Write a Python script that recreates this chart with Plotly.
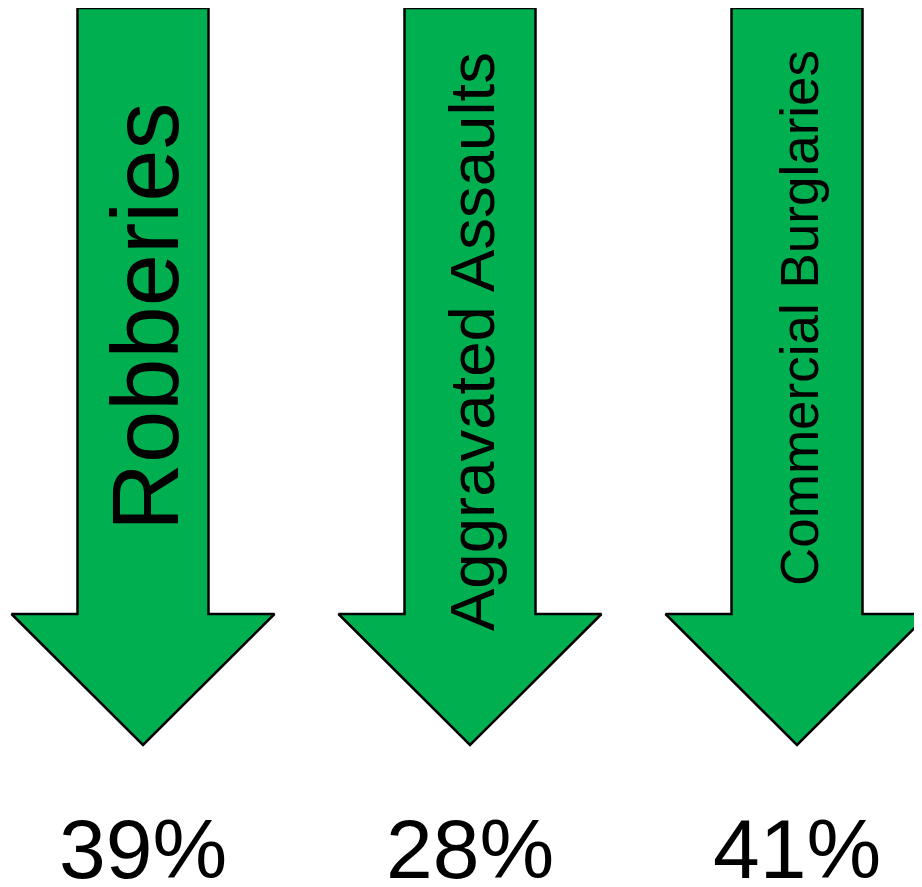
import plotly.graph_objects as go

# ---- data ----
categories = ["Robberies", "Aggravated Assaults", "Commercial Burglaries"]
percent_change = [39, 28, 41]
label_font_sizes = [94, 63.5, 53]

# ---- layout parameters (page pixel canvas; page body has an 8px margin) ----
PAGE_W, PAGE_H = 922, 887
BODY_MARGIN = 8
first_center = 143
spacing = 327
arrow_top = 8
shaft_bottom = 614
tip_y = 745
shaft_half = 65.5
head_half = 131.5
green = "#00B050"
label_centers = [317, 342, 318]
pct_center_y = 849

fig = go.Figure()

for i, (cat, val, fs) in enumerate(zip(categories, percent_change, label_font_sizes)):
    cx = first_center + spacing * i
    xs = [cx - shaft_half, cx + shaft_half, cx + shaft_half, cx + head_half,
          cx, cx - head_half, cx - shaft_half, cx - shaft_half]
    ys = [arrow_top, arrow_top, shaft_bottom, shaft_bottom,
          tip_y, shaft_bottom, shaft_bottom, arrow_top]
    fig.add_trace(go.Scatter(
        x=xs, y=ys, mode="lines", fill="toself", fillcolor=green,
        line=dict(color="black", width=2.5), hoverinfo="skip", showlegend=False,
    ))
    fig.add_annotation(
        x=cx + 2, y=label_centers[i], text=cat, textangle=-90, showarrow=False,
        xanchor="center", yanchor="middle",
        font=dict(family="Liberation Sans, Arial, sans-serif", size=fs, color="black"),
    )
    fig.add_annotation(
        x=cx, y=pct_center_y, text=f"{val}%", showarrow=False,
        xanchor="center", yanchor="middle",
        font=dict(family="Liberation Sans, Arial, sans-serif", size=84, color="black"),
    )

plot_h = PAGE_H - 2 * BODY_MARGIN  # avoid page overflow / scrollbar
fig.update_layout(
    width=PAGE_W - BODY_MARGIN, height=plot_h,
    margin=dict(l=0, r=0, t=0, b=0),
    paper_bgcolor="white", plot_bgcolor="white",
    xaxis=dict(range=[BODY_MARGIN, PAGE_W], visible=False, fixedrange=True),
    yaxis=dict(range=[BODY_MARGIN + plot_h, BODY_MARGIN], visible=False, fixedrange=True),
    showlegend=False,
)

fig.write_html("out.html", config={"displayModeBar": False})
